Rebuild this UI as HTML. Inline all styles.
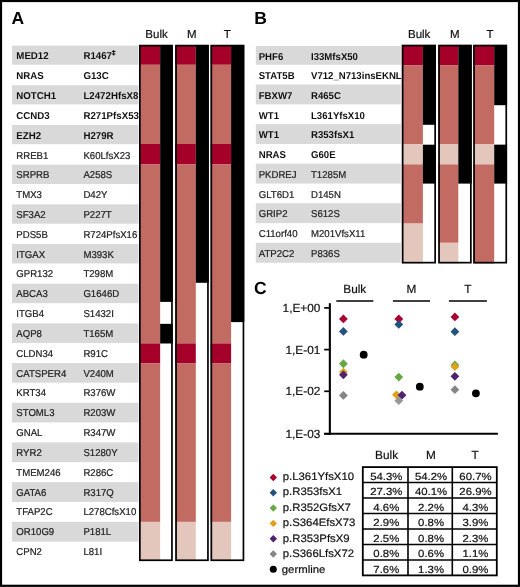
<!DOCTYPE html>
<html><head><meta charset="utf-8"><style>
html,body{margin:0;padding:0;background:#fff;}
svg{display:block;will-change:transform;}
text{font-family:"Liberation Sans",sans-serif;text-rendering:geometricPrecision;}
.rt{font-size:10px;}
.rb{font-size:10px;font-weight:bold;}
.hd{font-size:11.5px;fill:#111;stroke:#111;stroke-width:0.2px;}
.pl{font-size:17.5px;font-weight:bold;fill:#000;}
.ax{font-size:11.8px;fill:#111;stroke:#111;stroke-width:0.2px;}
.tb{font-size:10.25px;fill:#111;stroke:#111;stroke-width:0.2px;}
.tl{font-size:10.8px;fill:#111;stroke:#111;stroke-width:0.2px;}
.ch{font-size:11.8px;fill:#111;stroke:#111;stroke-width:0.2px;}
</style></head><body>
<svg width="520" height="587" viewBox="0 0 520 587">
<rect width="520" height="587" fill="#fff"/>
<rect x="12.0" y="45.60" width="126.50" height="19.10" fill="#d9d9d9"/>
<rect x="12.0" y="85.28" width="126.50" height="19.17" fill="#d9d9d9"/>
<rect x="12.0" y="124.97" width="126.50" height="19.23" fill="#d9d9d9"/>
<rect x="12.0" y="164.65" width="126.50" height="19.30" fill="#d9d9d9"/>
<rect x="12.0" y="204.34" width="126.50" height="19.36" fill="#d9d9d9"/>
<rect x="12.0" y="244.02" width="126.50" height="19.43" fill="#d9d9d9"/>
<rect x="12.0" y="283.70" width="126.50" height="19.50" fill="#d9d9d9"/>
<rect x="12.0" y="323.39" width="126.50" height="19.56" fill="#d9d9d9"/>
<rect x="12.0" y="363.07" width="126.50" height="19.63" fill="#d9d9d9"/>
<rect x="12.0" y="402.76" width="126.50" height="19.69" fill="#d9d9d9"/>
<rect x="12.0" y="442.44" width="126.50" height="19.76" fill="#d9d9d9"/>
<rect x="12.0" y="482.12" width="126.50" height="19.83" fill="#d9d9d9"/>
<rect x="12.0" y="521.81" width="126.50" height="19.89" fill="#d9d9d9"/>
<text transform="translate(16.3 59.45) scale(0.97 1)" class="rb" fill="#111">MED12</text>
<path d="M113.65 50.1V55.5M111.9 51.5H115.4M111.9 54.0H115.4" stroke="#111" stroke-width="1.05" fill="none"/>
<text transform="translate(83.4 59.45) scale(0.97 1)" class="rb" fill="#111">R1467</text>
<text transform="translate(16.3 79.27) scale(0.97 1)" class="rb" fill="#111">NRAS</text>
<text transform="translate(83.4 79.27) scale(0.97 1)" class="rb" fill="#111">G13C</text>
<text transform="translate(16.3 99.09) scale(0.97 1)" class="rb" fill="#111">NOTCH1</text>
<text transform="translate(83.4 99.09) scale(0.97 1)" class="rb" fill="#111">L2472HfsX8</text>
<text transform="translate(16.3 118.92) scale(0.97 1)" class="rb" fill="#111">CCND3</text>
<text transform="translate(83.4 118.92) scale(0.97 1)" class="rb" fill="#111">R271PfsX53</text>
<text transform="translate(16.3 138.74) scale(0.97 1)" class="rb" fill="#111">EZH2</text>
<text transform="translate(83.4 138.74) scale(0.97 1)" class="rb" fill="#111">H279R</text>
<text transform="translate(16.3 158.56) scale(0.96 1)" class="rt" fill="#222" stroke="#222" stroke-width="0.22">RREB1</text>
<text transform="translate(83.4 158.56) scale(0.96 1)" class="rt" fill="#222" stroke="#222" stroke-width="0.22">K60LfsX23</text>
<text transform="translate(16.3 178.38) scale(0.96 1)" class="rt" fill="#222" stroke="#222" stroke-width="0.22">SRPRB</text>
<text transform="translate(83.4 178.38) scale(0.96 1)" class="rt" fill="#222" stroke="#222" stroke-width="0.22">A258S</text>
<text transform="translate(16.3 198.20) scale(0.96 1)" class="rt" fill="#222" stroke="#222" stroke-width="0.22">TMX3</text>
<text transform="translate(83.4 198.20) scale(0.96 1)" class="rt" fill="#222" stroke="#222" stroke-width="0.22">D42Y</text>
<text transform="translate(16.3 218.03) scale(0.96 1)" class="rt" fill="#222" stroke="#222" stroke-width="0.22">SF3A2</text>
<text transform="translate(83.4 218.03) scale(0.96 1)" class="rt" fill="#222" stroke="#222" stroke-width="0.22">P227T</text>
<text transform="translate(16.3 237.85) scale(0.96 1)" class="rt" fill="#222" stroke="#222" stroke-width="0.22">PDS5B</text>
<text transform="translate(83.4 237.85) scale(0.96 1)" class="rt" fill="#222" stroke="#222" stroke-width="0.22">R724PfsX16</text>
<text transform="translate(16.3 257.67) scale(0.96 1)" class="rt" fill="#222" stroke="#222" stroke-width="0.22">ITGAX</text>
<text transform="translate(83.4 257.67) scale(0.96 1)" class="rt" fill="#222" stroke="#222" stroke-width="0.22">M393K</text>
<text transform="translate(16.3 277.49) scale(0.96 1)" class="rt" fill="#222" stroke="#222" stroke-width="0.22">GPR132</text>
<text transform="translate(83.4 277.49) scale(0.96 1)" class="rt" fill="#222" stroke="#222" stroke-width="0.22">T298M</text>
<text transform="translate(16.3 297.31) scale(0.96 1)" class="rt" fill="#222" stroke="#222" stroke-width="0.22">ABCA3</text>
<text transform="translate(83.4 297.31) scale(0.96 1)" class="rt" fill="#222" stroke="#222" stroke-width="0.22">G1646D</text>
<text transform="translate(16.3 317.14) scale(0.96 1)" class="rt" fill="#222" stroke="#222" stroke-width="0.22">ITGB4</text>
<text transform="translate(83.4 317.14) scale(0.96 1)" class="rt" fill="#222" stroke="#222" stroke-width="0.22">S1432I</text>
<text transform="translate(16.3 336.96) scale(0.96 1)" class="rt" fill="#222" stroke="#222" stroke-width="0.22">AQP8</text>
<text transform="translate(83.4 336.96) scale(0.96 1)" class="rt" fill="#222" stroke="#222" stroke-width="0.22">T165M</text>
<text transform="translate(16.3 356.78) scale(0.96 1)" class="rt" fill="#222" stroke="#222" stroke-width="0.22">CLDN34</text>
<text transform="translate(83.4 356.78) scale(0.96 1)" class="rt" fill="#222" stroke="#222" stroke-width="0.22">R91C</text>
<text transform="translate(16.3 376.60) scale(0.96 1)" class="rt" fill="#222" stroke="#222" stroke-width="0.22">CATSPER4</text>
<text transform="translate(83.4 376.60) scale(0.96 1)" class="rt" fill="#222" stroke="#222" stroke-width="0.22">V240M</text>
<text transform="translate(16.3 396.42) scale(0.96 1)" class="rt" fill="#222" stroke="#222" stroke-width="0.22">KRT34</text>
<text transform="translate(83.4 396.42) scale(0.96 1)" class="rt" fill="#222" stroke="#222" stroke-width="0.22">R376W</text>
<text transform="translate(16.3 416.25) scale(0.96 1)" class="rt" fill="#222" stroke="#222" stroke-width="0.22">STOML3</text>
<text transform="translate(83.4 416.25) scale(0.96 1)" class="rt" fill="#222" stroke="#222" stroke-width="0.22">R203W</text>
<text transform="translate(16.3 436.07) scale(0.96 1)" class="rt" fill="#222" stroke="#222" stroke-width="0.22">GNAL</text>
<text transform="translate(83.4 436.07) scale(0.96 1)" class="rt" fill="#222" stroke="#222" stroke-width="0.22">R347W</text>
<text transform="translate(16.3 455.89) scale(0.96 1)" class="rt" fill="#222" stroke="#222" stroke-width="0.22">RYR2</text>
<text transform="translate(83.4 455.89) scale(0.96 1)" class="rt" fill="#222" stroke="#222" stroke-width="0.22">S1280Y</text>
<text transform="translate(16.3 475.71) scale(0.96 1)" class="rt" fill="#222" stroke="#222" stroke-width="0.22">TMEM246</text>
<text transform="translate(83.4 475.71) scale(0.96 1)" class="rt" fill="#222" stroke="#222" stroke-width="0.22">R286C</text>
<text transform="translate(16.3 495.53) scale(0.96 1)" class="rt" fill="#222" stroke="#222" stroke-width="0.22">GATA6</text>
<text transform="translate(83.4 495.53) scale(0.96 1)" class="rt" fill="#222" stroke="#222" stroke-width="0.22">R317Q</text>
<text transform="translate(16.3 515.36) scale(0.96 1)" class="rt" fill="#222" stroke="#222" stroke-width="0.22">TFAP2C</text>
<text transform="translate(83.4 515.36) scale(0.96 1)" class="rt" fill="#222" stroke="#222" stroke-width="0.22">L278CfsX10</text>
<text transform="translate(16.3 535.18) scale(0.96 1)" class="rt" fill="#222" stroke="#222" stroke-width="0.22">OR10G9</text>
<text transform="translate(83.4 535.18) scale(0.96 1)" class="rt" fill="#222" stroke="#222" stroke-width="0.22">P181L</text>
<text transform="translate(16.3 555.00) scale(0.96 1)" class="rt" fill="#222" stroke="#222" stroke-width="0.22">CPN2</text>
<text transform="translate(83.4 555.00) scale(0.96 1)" class="rt" fill="#222" stroke="#222" stroke-width="0.22">L81I</text>
<rect x="139.00" y="44.85" width="33.80" height="516.25" fill="#fff"/>
<rect x="139.00" y="44.85" width="21.15" height="19.95" fill="#a5002a"/>
<rect x="139.00" y="64.80" width="21.15" height="79.20" fill="#c26b62"/>
<rect x="139.00" y="144.00" width="21.15" height="20.50" fill="#a5002a"/>
<rect x="139.00" y="164.50" width="21.15" height="178.90" fill="#c26b62"/>
<rect x="139.00" y="343.40" width="21.15" height="20.10" fill="#a5002a"/>
<rect x="139.00" y="363.50" width="21.15" height="158.40" fill="#c26b62"/>
<rect x="139.00" y="521.90" width="21.15" height="39.20" fill="#e3c7bd"/>
<rect x="160.15" y="44.85" width="12.65" height="257.05" fill="#000"/>
<rect x="160.15" y="323.85" width="12.65" height="19.65" fill="#000"/>
<rect x="139.85" y="45.70" width="32.10" height="514.55" fill="none" stroke="#000" stroke-width="1.7"/>
<rect x="175.20" y="44.85" width="33.60" height="516.25" fill="#fff"/>
<rect x="175.20" y="44.85" width="20.60" height="19.95" fill="#a5002a"/>
<rect x="175.20" y="64.80" width="20.60" height="79.20" fill="#c26b62"/>
<rect x="175.20" y="144.00" width="20.60" height="20.50" fill="#a5002a"/>
<rect x="175.20" y="164.50" width="20.60" height="178.90" fill="#c26b62"/>
<rect x="175.20" y="343.40" width="20.60" height="20.10" fill="#a5002a"/>
<rect x="175.20" y="363.50" width="20.60" height="158.40" fill="#c26b62"/>
<rect x="175.20" y="521.90" width="20.60" height="39.20" fill="#e3c7bd"/>
<rect x="195.80" y="44.85" width="13.00" height="237.95" fill="#000"/>
<rect x="176.05" y="45.70" width="31.90" height="514.55" fill="none" stroke="#000" stroke-width="1.7"/>
<rect x="210.50" y="44.85" width="33.80" height="516.25" fill="#fff"/>
<rect x="210.50" y="44.85" width="20.60" height="19.95" fill="#a5002a"/>
<rect x="210.50" y="64.80" width="20.60" height="79.20" fill="#c26b62"/>
<rect x="210.50" y="144.00" width="20.60" height="20.50" fill="#a5002a"/>
<rect x="210.50" y="164.50" width="20.60" height="178.90" fill="#c26b62"/>
<rect x="210.50" y="343.40" width="20.60" height="20.10" fill="#a5002a"/>
<rect x="210.50" y="363.50" width="20.60" height="158.40" fill="#c26b62"/>
<rect x="210.50" y="521.90" width="20.60" height="39.20" fill="#e3c7bd"/>
<rect x="231.10" y="44.85" width="13.20" height="277.25" fill="#000"/>
<rect x="211.35" y="45.70" width="32.10" height="514.55" fill="none" stroke="#000" stroke-width="1.7"/>
<rect x="255.8" y="46.00" width="145.00" height="18.75" fill="#d9d9d9"/>
<rect x="255.8" y="84.50" width="145.00" height="19.85" fill="#d9d9d9"/>
<rect x="255.8" y="124.08" width="145.00" height="19.87" fill="#d9d9d9"/>
<rect x="255.8" y="163.66" width="145.00" height="19.89" fill="#d9d9d9"/>
<rect x="255.8" y="203.24" width="145.00" height="19.91" fill="#d9d9d9"/>
<rect x="255.8" y="242.82" width="145.00" height="19.93" fill="#d9d9d9"/>
<text transform="translate(258.7 59.60) scale(0.96 1)" class="rb" fill="#111">PHF6</text>
<text transform="translate(311.0 59.60) scale(0.96 1)" class="rb" fill="#111">I33MfsX50</text>
<text transform="translate(258.7 79.32) scale(0.96 1)" class="rb" fill="#111">STAT5B</text>
<text transform="translate(311.0 79.32) scale(0.96 1)" class="rb" fill="#111">V712_N713insEKNL</text>
<text transform="translate(258.7 99.04) scale(0.96 1)" class="rb" fill="#111">FBXW7</text>
<text transform="translate(311.0 99.04) scale(0.96 1)" class="rb" fill="#111">R465C</text>
<text transform="translate(258.7 118.76) scale(0.96 1)" class="rb" fill="#111">WT1</text>
<text transform="translate(311.0 118.76) scale(0.96 1)" class="rb" fill="#111">L361YfsX10</text>
<text transform="translate(258.7 138.48) scale(0.96 1)" class="rb" fill="#111">WT1</text>
<text transform="translate(311.0 138.48) scale(0.96 1)" class="rb" fill="#111">R353fsX1</text>
<text transform="translate(258.7 158.20) scale(0.96 1)" class="rb" fill="#111">NRAS</text>
<text transform="translate(311.0 158.20) scale(0.96 1)" class="rb" fill="#111">G60E</text>
<text transform="translate(258.7 177.92) scale(0.96 1)" class="rt" fill="#222" stroke="#222" stroke-width="0.22">PKDREJ</text>
<text transform="translate(311.0 177.92) scale(0.96 1)" class="rt" fill="#222" stroke="#222" stroke-width="0.22">T1285M</text>
<text transform="translate(258.7 197.64) scale(0.96 1)" class="rt" fill="#222" stroke="#222" stroke-width="0.22">GLT6D1</text>
<text transform="translate(311.0 197.64) scale(0.96 1)" class="rt" fill="#222" stroke="#222" stroke-width="0.22">D145N</text>
<text transform="translate(258.7 217.36) scale(0.96 1)" class="rt" fill="#222" stroke="#222" stroke-width="0.22">GRIP2</text>
<text transform="translate(311.0 217.36) scale(0.96 1)" class="rt" fill="#222" stroke="#222" stroke-width="0.22">S612S</text>
<text transform="translate(258.7 237.08) scale(0.96 1)" class="rt" fill="#222" stroke="#222" stroke-width="0.22">C11orf40</text>
<text transform="translate(311.0 237.08) scale(0.96 1)" class="rt" fill="#222" stroke="#222" stroke-width="0.22">M201VfsX11</text>
<text transform="translate(258.7 256.80) scale(0.96 1)" class="rt" fill="#222" stroke="#222" stroke-width="0.22">ATP2C2</text>
<text transform="translate(311.0 256.80) scale(0.96 1)" class="rt" fill="#222" stroke="#222" stroke-width="0.22">P836S</text>
<rect x="401.80" y="44.80" width="34.20" height="218.70" fill="#fff"/>
<rect x="401.80" y="44.80" width="21.10" height="20.70" fill="#a5002a"/>
<rect x="401.80" y="65.50" width="21.10" height="78.90" fill="#c26b62"/>
<rect x="401.80" y="144.40" width="21.10" height="20.00" fill="#e3c7bd"/>
<rect x="401.80" y="164.40" width="21.10" height="59.20" fill="#c26b62"/>
<rect x="401.80" y="223.60" width="21.10" height="39.90" fill="#e3c7bd"/>
<rect x="422.90" y="44.80" width="13.10" height="80.00" fill="#000"/>
<rect x="422.90" y="144.70" width="13.10" height="38.90" fill="#000"/>
<rect x="402.65" y="45.65" width="32.50" height="217.00" fill="none" stroke="#000" stroke-width="1.7"/>
<rect x="438.20" y="44.80" width="33.50" height="218.70" fill="#fff"/>
<rect x="438.20" y="44.80" width="20.10" height="20.70" fill="#a5002a"/>
<rect x="438.20" y="65.50" width="20.10" height="78.90" fill="#c26b62"/>
<rect x="438.20" y="144.40" width="20.10" height="20.00" fill="#e3c7bd"/>
<rect x="438.20" y="164.40" width="20.10" height="78.40" fill="#c26b62"/>
<rect x="438.20" y="242.80" width="20.10" height="20.70" fill="#e3c7bd"/>
<rect x="458.30" y="44.80" width="13.40" height="138.80" fill="#000"/>
<rect x="439.05" y="45.65" width="31.80" height="217.00" fill="none" stroke="#000" stroke-width="1.7"/>
<rect x="473.20" y="44.80" width="33.90" height="218.70" fill="#fff"/>
<rect x="473.20" y="44.80" width="21.00" height="20.70" fill="#a5002a"/>
<rect x="473.20" y="65.50" width="21.00" height="78.90" fill="#c26b62"/>
<rect x="473.20" y="144.40" width="21.00" height="20.00" fill="#e3c7bd"/>
<rect x="473.20" y="164.40" width="21.00" height="99.10" fill="#c26b62"/>
<rect x="494.20" y="44.80" width="12.90" height="60.40" fill="#000"/>
<rect x="494.20" y="144.65" width="12.90" height="38.95" fill="#000"/>
<rect x="474.05" y="45.65" width="32.20" height="217.00" fill="none" stroke="#000" stroke-width="1.7"/>
<text x="156.5" y="38.2" class="hd" text-anchor="middle">Bulk</text>
<text x="191.7" y="38.2" class="hd" text-anchor="middle">M</text>
<text x="227.2" y="38.2" class="hd" text-anchor="middle">T</text>
<text x="419.2" y="38.2" class="hd" text-anchor="middle">Bulk</text>
<text x="454.8" y="38.2" class="hd" text-anchor="middle">M</text>
<text x="490.0" y="38.2" class="hd" text-anchor="middle">T</text>
<text x="11.4" y="24.3" class="pl">A</text>
<text x="254.3" y="24.4" class="pl">B</text>
<text x="253.9" y="294.4" class="pl">C</text>
<line x1="329.85" y1="303.2" x2="329.85" y2="434.8" stroke="#000" stroke-width="2.1"/>
<line x1="324.2" y1="433.8" x2="497.9" y2="433.8" stroke="#000" stroke-width="2.0"/>
<line x1="324.2" y1="307.90" x2="329.85" y2="307.90" stroke="#000" stroke-width="1.7"/>
<text x="320.3" y="311.70" class="ax" text-anchor="end">1,E+00</text>
<line x1="324.2" y1="349.60" x2="329.85" y2="349.60" stroke="#000" stroke-width="1.7"/>
<text x="320.3" y="353.50" class="ax" text-anchor="end">1,E-01</text>
<line x1="324.2" y1="391.30" x2="329.85" y2="391.30" stroke="#000" stroke-width="1.7"/>
<text x="320.3" y="395.40" class="ax" text-anchor="end">1,E-02</text>
<line x1="324.2" y1="433.80" x2="329.85" y2="433.80" stroke="#000" stroke-width="1.7"/>
<text x="320.3" y="437.70" class="ax" text-anchor="end">1,E-03</text>
<line x1="336.3" y1="301.05" x2="373.3" y2="301.05" stroke="#000" stroke-width="1.6"/>
<text x="354.80" y="293.0" class="ch" text-anchor="middle">Bulk</text>
<line x1="392.9" y1="301.05" x2="430.0" y2="301.05" stroke="#000" stroke-width="1.6"/>
<text x="411.45" y="293.0" class="ch" text-anchor="middle">M</text>
<line x1="448.9" y1="301.05" x2="486.9" y2="301.05" stroke="#000" stroke-width="1.6"/>
<text x="467.90" y="293.0" class="ch" text-anchor="middle">T</text>
<path d="M343.40 314.57L347.80 318.97L343.40 323.37L339.00 318.97Z" fill="#ab0032"/>
<path d="M343.40 327.04L347.80 331.44L343.40 335.84L339.00 331.44Z" fill="#24527f"/>
<path d="M343.40 359.33L347.80 363.73L343.40 368.13L339.00 363.73Z" fill="#66a844"/>
<path d="M343.40 367.69L347.80 372.09L343.40 376.49L339.00 372.09Z" fill="#dea21e"/>
<path d="M343.40 370.39L347.80 374.79L343.40 379.19L339.00 374.79Z" fill="#4e236f"/>
<path d="M343.40 391.05L347.80 395.45L343.40 399.85L339.00 395.45Z" fill="#858585"/>
<circle cx="363.7" cy="354.63" r="3.9" fill="#000"/>
<path d="M398.80 314.61L403.20 319.01L398.80 323.41L394.40 319.01Z" fill="#ab0032"/>
<path d="M398.80 320.07L403.20 324.47L398.80 328.87L394.40 324.47Z" fill="#24527f"/>
<path d="M398.80 372.70L403.20 377.10L398.80 381.50L394.40 377.10Z" fill="#66a844"/>
<path d="M396.40 390.45L400.80 394.85L396.40 399.25L392.00 394.85Z" fill="#dea21e"/>
<path d="M402.00 390.75L406.40 395.15L402.00 399.55L397.60 395.15Z" fill="#4e236f"/>
<path d="M398.80 396.26L403.20 400.66L398.80 405.06L394.40 400.66Z" fill="#858585" fill-opacity="0.85"/>
<circle cx="419.8" cy="386.64" r="3.9" fill="#000"/>
<path d="M454.90 312.55L459.30 316.95L454.90 321.35L450.50 316.95Z" fill="#ab0032"/>
<path d="M454.90 327.31L459.30 331.71L454.90 336.11L450.50 331.71Z" fill="#24527f"/>
<path d="M454.90 360.55L459.30 364.95L454.90 369.35L450.50 364.95Z" fill="#66a844"/>
<path d="M454.90 362.32L459.30 366.72L454.90 371.12L450.50 366.72Z" fill="#dea21e"/>
<path d="M454.90 371.90L459.30 376.30L454.90 380.70L450.50 376.30Z" fill="#4e236f"/>
<path d="M454.90 385.27L459.30 389.67L454.90 394.07L450.50 389.67Z" fill="#858585"/>
<circle cx="475.9" cy="393.31" r="3.9" fill="#000"/>
<text x="386.60" y="459.1" class="ch" text-anchor="middle">Bulk</text>
<text x="430.90" y="459.1" class="ch" text-anchor="middle">M</text>
<text x="475.20" y="459.1" class="ch" text-anchor="middle">T</text>
<text transform="translate(386.30 479.80) scale(1.11 1)" class="tb" text-anchor="middle">54.3%</text>
<text transform="translate(431.05 479.80) scale(1.11 1)" class="tb" text-anchor="middle">54.2%</text>
<text transform="translate(475.45 479.80) scale(1.11 1)" class="tb" text-anchor="middle">60.7%</text>
<path d="M273.30 473.80L277.00 477.50L273.30 481.20L269.60 477.50Z" fill="#ab0032"/>
<text transform="translate(282.8 479.80) scale(1.05 1)" class="tl">p.L361YfsX10</text>
<text transform="translate(386.30 495.25) scale(1.11 1)" class="tb" text-anchor="middle">27.3%</text>
<text transform="translate(431.05 495.25) scale(1.11 1)" class="tb" text-anchor="middle">40.1%</text>
<text transform="translate(475.45 495.25) scale(1.11 1)" class="tb" text-anchor="middle">26.9%</text>
<path d="M273.30 489.10L277.00 492.80L273.30 496.50L269.60 492.80Z" fill="#24527f"/>
<text transform="translate(282.8 495.25) scale(1.05 1)" class="tl">p.R353fsX1</text>
<text transform="translate(386.30 510.70) scale(1.11 1)" class="tb" text-anchor="middle">4.6%</text>
<text transform="translate(431.05 510.70) scale(1.11 1)" class="tb" text-anchor="middle">2.2%</text>
<text transform="translate(475.45 510.70) scale(1.11 1)" class="tb" text-anchor="middle">4.3%</text>
<path d="M273.30 504.40L277.00 508.10L273.30 511.80L269.60 508.10Z" fill="#66a844"/>
<text transform="translate(282.8 510.70) scale(1.05 1)" class="tl">p.R352GfsX7</text>
<text transform="translate(386.30 526.15) scale(1.11 1)" class="tb" text-anchor="middle">2.9%</text>
<text transform="translate(431.05 526.15) scale(1.11 1)" class="tb" text-anchor="middle">0.8%</text>
<text transform="translate(475.45 526.15) scale(1.11 1)" class="tb" text-anchor="middle">3.9%</text>
<path d="M273.30 519.70L277.00 523.40L273.30 527.10L269.60 523.40Z" fill="#dea21e"/>
<text transform="translate(282.8 526.15) scale(1.05 1)" class="tl">p.S364EfsX73</text>
<text transform="translate(386.30 541.60) scale(1.11 1)" class="tb" text-anchor="middle">2.5%</text>
<text transform="translate(431.05 541.60) scale(1.11 1)" class="tb" text-anchor="middle">0.8%</text>
<text transform="translate(475.45 541.60) scale(1.11 1)" class="tb" text-anchor="middle">2.3%</text>
<path d="M273.30 535.00L277.00 538.70L273.30 542.40L269.60 538.70Z" fill="#4e236f"/>
<text transform="translate(282.8 541.60) scale(1.05 1)" class="tl">p.R353PfsX9</text>
<text transform="translate(386.30 557.05) scale(1.11 1)" class="tb" text-anchor="middle">0.8%</text>
<text transform="translate(431.05 557.05) scale(1.11 1)" class="tb" text-anchor="middle">0.6%</text>
<text transform="translate(475.45 557.05) scale(1.11 1)" class="tb" text-anchor="middle">1.1%</text>
<path d="M273.30 550.30L277.00 554.00L273.30 557.70L269.60 554.00Z" fill="#858585"/>
<text transform="translate(282.8 557.05) scale(1.05 1)" class="tl">p.S366LfsX72</text>
<text transform="translate(386.30 572.50) scale(1.11 1)" class="tb" text-anchor="middle">7.6%</text>
<text transform="translate(431.05 572.50) scale(1.11 1)" class="tb" text-anchor="middle">1.3%</text>
<text transform="translate(475.45 572.50) scale(1.11 1)" class="tb" text-anchor="middle">0.9%</text>
<circle cx="273.3" cy="569.30" r="3.5" fill="#000"/>
<text transform="translate(281.8 572.50) scale(1.05 1)" class="tl">germline</text>
<line x1="362.8" y1="482.57" x2="496.8" y2="482.57" stroke="#000" stroke-width="1.5"/>
<line x1="362.8" y1="498.04" x2="496.8" y2="498.04" stroke="#000" stroke-width="1.5"/>
<line x1="362.8" y1="513.51" x2="496.8" y2="513.51" stroke="#000" stroke-width="1.5"/>
<line x1="362.8" y1="528.98" x2="496.8" y2="528.98" stroke="#000" stroke-width="1.5"/>
<line x1="362.8" y1="544.45" x2="496.8" y2="544.45" stroke="#000" stroke-width="1.5"/>
<line x1="362.8" y1="559.92" x2="496.8" y2="559.92" stroke="#000" stroke-width="1.5"/>
<line x1="408.0" y1="467.1" x2="408.0" y2="575.39" stroke="#000" stroke-width="1.6"/>
<line x1="452.3" y1="467.1" x2="452.3" y2="575.39" stroke="#000" stroke-width="1.6"/>
<rect x="362.8" y="467.1" width="134.00" height="108.29" fill="none" stroke="#000" stroke-width="1.8"/>
<rect x="1" y="1" width="518" height="584.8" fill="none" stroke="#000" stroke-width="2.2"/>
</svg>
</body></html>
